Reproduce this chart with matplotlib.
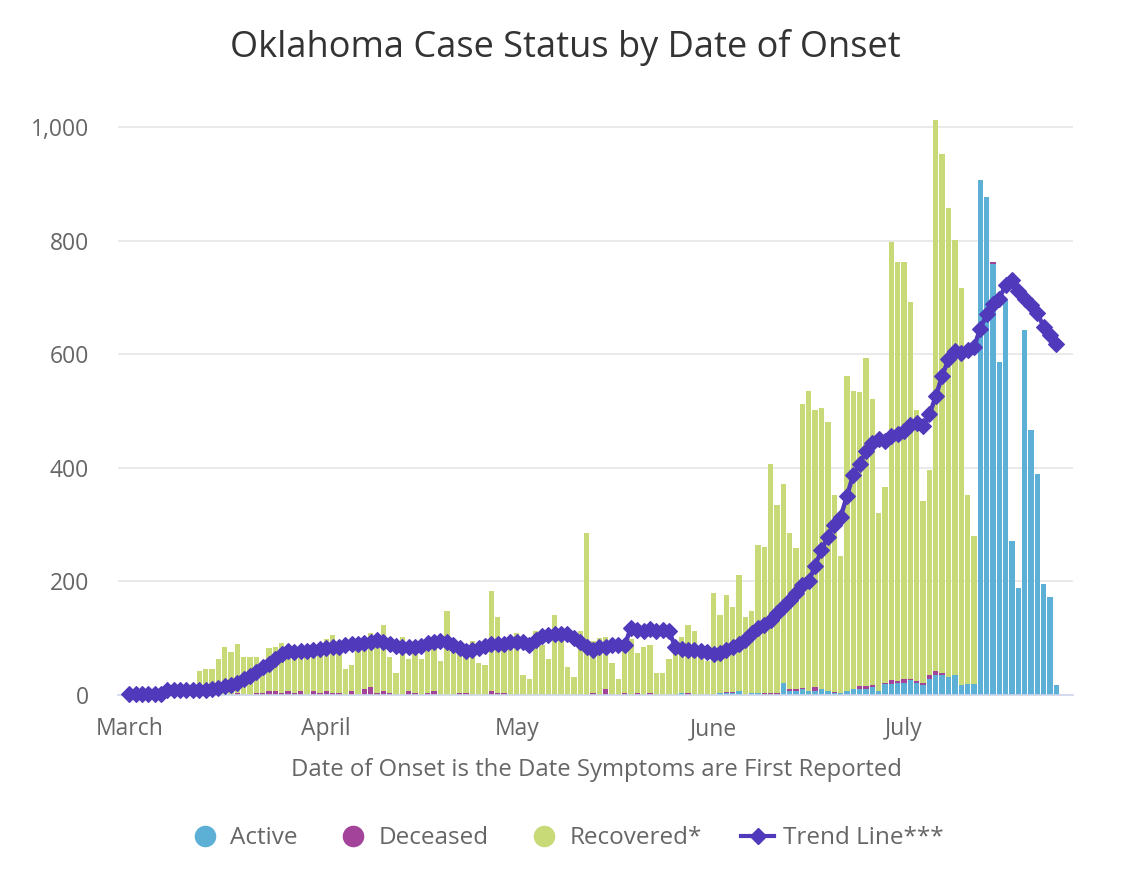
import matplotlib.pyplot as plt
from matplotlib.lines import Line2D
from matplotlib.ticker import FuncFormatter

plt.rcParams['font.family'] = ['Open Sans', 'DejaVu Sans']

# one entry per day, starting March 1
recovered = [
    0, 0, 0, 0, 0, 2, 5, 8, 10, 8,
    12, 43, 46, 46, 64, 85, 75, 86, 67, 67,
    64, 54, 75, 78, 89, 75, 77, 73, 85, 83,
    82, 92, 103, 82, 46, 46, 88, 85, 95, 92,
    116, 64, 39, 102, 56, 77, 63, 77, 78, 60,
    148, 80, 72, 67, 95, 56, 53, 176, 134, 87,
    85, 109, 35, 28, 113, 88, 63, 141, 100, 49,
    32, 113, 285, 92, 100, 92, 56, 28, 87, 99,
    71, 85, 85, 39, 39, 63, 80, 99, 120, 113,
    75, 60, 180, 138, 170, 149, 205, 138, 145, 262,
    258, 403, 332, 350, 276, 248, 499, 529, 487, 495,
    473, 347, 241, 554, 526, 518, 578, 505, 314, 345,
    772, 737, 733, 663, 476, 321, 361, 971, 915, 827,
    766, 699, 333, 260, 0, 0, 0, 0, 0, 0,
    0, 0, 0, 0, 0, 0, 0,
]
active = [
    0, 0, 0, 0, 0, 0, 0, 0, 0, 0,
    0, 0, 0, 0, 0, 0, 0, 0, 0, 0,
    0, 0, 0, 0, 0, 0, 0, 0, 0, 0,
    0, 0, 0, 0, 0, 0, 0, 0, 0, 0,
    0, 0, 0, 0, 0, 0, 0, 0, 0, 0,
    0, 0, 0, 0, 0, 0, 0, 0, 0, 0,
    0, 0, 0, 0, 0, 0, 0, 0, 0, 0,
    0, 0, 0, 0, 0, 0, 0, 0, 0, 0,
    0, 0, 0, 0, 0, 0, 0, 3, 0, 0,
    0, 0, 0, 3, 3, 3, 7, 0, 3, 3,
    0, 0, 0, 21, 7, 7, 10, 7, 7, 10,
    7, 3, 3, 7, 10, 10, 10, 14, 7, 19,
    19, 22, 22, 26, 22, 18, 28, 35, 35, 31,
    35, 18, 20, 20, 907, 876, 759, 586, 696, 272,
    188, 643, 466, 389, 195, 173, 18,
]
deceased = [
    0, 0, 0, 0, 0, 0, 0, 0, 0, 0,
    0, 0, 0, 0, 0, 0, 0, 3, 0, 0,
    3, 3, 7, 7, 3, 7, 3, 7, 0, 7,
    3, 7, 3, 3, 0, 7, 0, 10, 14, 3,
    7, 3, 0, 0, 7, 3, 0, 3, 7, 0,
    0, 0, 3, 3, 0, 0, 0, 7, 3, 3,
    0, 0, 0, 0, 0, 0, 0, 0, 0, 0,
    0, 0, 0, 3, 0, 10, 0, 0, 3, 0,
    3, 0, 3, 0, 0, 0, 0, 0, 3, 0,
    0, 0, 0, 0, 3, 3, 0, 0, 0, 0,
    3, 3, 3, 0, 3, 3, 3, 0, 7, 0,
    0, 3, 0, 0, 0, 5, 5, 3, 0, 3,
    7, 3, 7, 3, 3, 3, 7, 7, 3, 0,
    0, 0, 0, 0, 0, 0, 3, 0, 0, 0,
    0, 0, 0, 0, 0, 0, 0,
]
trend = [
    2, 2, 2, 2, 2, 2, 9, 9, 8, 9,
    8, 8, 9, 11, 12, 15, 18, 22, 28, 34,
    40, 49, 54, 63, 72, 77, 76, 78, 78, 79,
    81, 82, 84, 85, 88, 89, 90, 91, 94, 96,
    93, 89, 86, 85, 85, 85, 86, 91, 94, 95,
    93, 88, 82, 78, 79, 83, 87, 90, 90, 90,
    94, 93, 93, 88, 96, 104, 106, 108, 107, 108,
    101, 94, 85, 79, 85, 85, 88, 88, 88, 118,
    115, 113, 116, 113, 114, 112, 84, 81, 80, 79,
    77, 75, 73, 74, 79, 84, 90, 96, 110, 118,
    124, 132, 145, 155, 167, 180, 193, 200, 228, 255,
    279, 300, 313, 350, 388, 406, 429, 444, 450, 447,
    456, 459, 465, 476, 479, 474, 494, 526, 562, 591,
    606, 603, 607, 612, 645, 670, 688, 698, 722, 730,
    712, 698, 686, 672, 648, 634, 618,
]
month_ticks = [0, 31, 61, 92, 122]
month_labels = ['March', 'April', 'May', 'June', 'July']

c_active = '#5cb0d5'
c_deceased = '#a3449a'
c_recovered = '#c8da78'
c_trend = '#5039bb'

days = list(range(len(trend)))
stack2 = [a + d for a, d in zip(active, deceased)]

fig = plt.figure(figsize=(11.36, 8.76), dpi=100)
ax = fig.add_axes([0.1039, 0.2066, 0.8406, 0.6808])

ax.bar(days, active, width=0.84, color=c_active, zorder=2)
ax.bar(days, deceased, width=0.84, bottom=active, color=c_deceased, zorder=2)
ax.bar(days, recovered, width=0.84, bottom=stack2, color=c_recovered, zorder=2)
ax.plot(days, trend, color=c_trend, lw=3.2, marker='D', markersize=8,
        markeredgewidth=0.8, zorder=4, clip_on=False)

ax.set_xlim(-1.78, 148.6)
ax.set_ylim(0, 1050)
ax.set_yticks([0, 200, 400, 600, 800, 1000])
ax.yaxis.set_major_formatter(FuncFormatter(lambda v, p: f'{int(v):,}'))
ax.set_xticks(month_ticks)
ax.set_xticklabels(month_labels)
ax.grid(axis='y', color='#e6e6e6', lw=1.2, zorder=0)
ax.set_axisbelow(True)
for s in ['top', 'right', 'left']:
    ax.spines[s].set_visible(False)
ax.spines['bottom'].set_color('#ccd6eb')
ax.spines['bottom'].set_linewidth(1.2)
ax.spines['bottom'].set_zorder(3)
ax.tick_params(axis='y', length=0, pad=21, labelsize=16.5, labelcolor='#666666')
ax.tick_params(axis='x', length=0, pad=16, labelsize=16.5, labelcolor='#666666')

fig.text(0.498, 0.946, 'Oklahoma Case Status by Date of Onset', ha='center',
         va='center', fontsize=26, color='#333333')
fig.text(0.525, 0.121, 'Date of Onset is the Date Symptoms are First Reported',
         ha='center', va='center', fontsize=17.2, color='#666666')

handles = [
    Line2D([], [], ls='none', marker='o', ms=14.5, color=c_active),
    Line2D([], [], ls='none', marker='o', ms=14.5, color=c_deceased),
    Line2D([], [], ls='none', marker='o', ms=14.5, color=c_recovered),
    Line2D([], [], color=c_trend, lw=3, marker='D', ms=8),
]
fig.legend(handles, ['Active', 'Deceased', 'Recovered*', 'Trend Line***'],
           loc='center', bbox_to_anchor=(0.498, 0.043), ncol=4, frameon=False,
           fontsize=17.5, labelcolor='#666666', handlelength=1.36,
           handletextpad=0.35, columnspacing=1.62)

fig.savefig('out.png', dpi=100)
